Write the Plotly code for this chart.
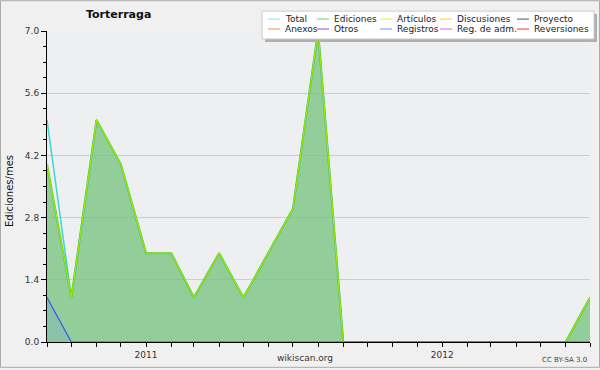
import plotly.graph_objects as go
import pandas as pd

# ---- data ----
months = pd.date_range("2010-09-01", periods=23, freq="MS")
total = [5, 1, 5, 4, 2, 2, 1, 2, 1, 2, 3, 7, 0, 0, 0, 0, 0, 0, 0, 0, 0, 0, 1]
ediciones = [4, 1, 5, 4, 2, 2, 1, 2, 1, 2, 3, 7, 0, 0, 0, 0, 0, 0, 0, 0, 0, 0, 1]
articulos = [4, 1, 5, 4, 2, 2, 1, 2, 1, 2, 3, 7, 0, 0, 0, 0, 0, 0, 0, 0, 0, 0, 1]
registros = [1, 0, 0, 0, 0, 0, 0, 0, 0, 0, 0, 0, 0, 0, 0, 0, 0, 0, 0, 0, 0, 0, 0]
y_ticks = [0.0, 1.4, 2.8, 4.2, 5.6, 7.0]
year_labels = {"2011-01": "2011", "2012-01": "2012"}

legend_names = [["Total", "Ediciones", "Artículos", "Discusiones", "Proyecto"],
                ["Anexos", "Otros", "Registros", "Reg. de adm.", "Reversiones"]]
legend_colors = [["#88e6e6", "#77cc77", "#ccff33", "#ffcc33", "#555555"],
                 ["#ff8844", "#9944ee", "#7788ff", "#ee55ee", "#ff3333"]]

W, H = 600, 370
L, R, T, B = 47, 590, 31, 344
def px(x):
    return (x - L) / (R - L)
def py(y):
    return (B - y) / (B - T)

FONT = "DejaVu Sans"

fig = go.Figure()
fig.add_trace(go.Scatter(x=months, y=total, mode="lines",
                         line=dict(color="#3fd6d6", width=1.5), showlegend=False,
                         hoverinfo="skip"))
fig.add_trace(go.Scatter(x=months, y=ediciones, mode="lines", fill="tozeroy",
                         fillcolor="rgba(120,195,130,0.78)",
                         line=dict(color="#55bb55", width=2), showlegend=False,
                         hoverinfo="skip"))
fig.add_trace(go.Scatter(x=months, y=articulos, mode="lines",
                         line=dict(color="#99ee00", width=1.2), showlegend=False,
                         hoverinfo="skip"))
fig.add_trace(go.Scatter(x=months, y=registros, mode="lines", fill="tozeroy",
                         fillcolor="rgba(110,130,255,0.15)",
                         line=dict(color="#3355ee", width=1.2), showlegend=False,
                         hoverinfo="skip"))

tickvals = list(months)
ticktext = [year_labels.get(m.strftime("%Y-%m"), "") for m in months]

shapes = []
annotations = []
# outer border
shapes.append(dict(type="rect", xref="paper", yref="paper",
                   x0=px(0.5), x1=px(599.5), y0=py(0.5), y1=py(369.5),
                   line=dict(color="#aaaaaa", width=1), layer="below"))
# legend box with shadow
shapes.append(dict(type="rect", xref="paper", yref="paper",
                   x0=px(265), x1=px(597), y0=py(14), y1=py(42),
                   fillcolor="#b0b0b0", line=dict(width=0)))
shapes.append(dict(type="rect", xref="paper", yref="paper",
                   x0=px(262), x1=px(594), y0=py(11), y1=py(39),
                   fillcolor="#ffffff", line=dict(color="#cccccc", width=1)))
col_x = [268, 317, 380, 440, 517]
row_y = [19, 29]
for r in range(2):
    for c in range(5):
        x0 = col_x[c]
        yy = row_y[r]
        shapes.append(dict(type="line", xref="paper", yref="paper",
                           x0=px(x0), x1=px(x0 + 12), y0=py(yy), y1=py(yy),
                           line=dict(color=legend_colors[r][c], width=1)))
        annotations.append(dict(xref="paper", yref="paper", x=px(x0 + 15), y=py(yy),
                                text=legend_names[r][c], showarrow=False,
                                xanchor="left", yanchor="middle",
                                font=dict(family=FONT, size=9, color="#222222")))

annotations.append(dict(xref="paper", yref="paper", x=px(118), y=py(14),
                        text="<b>Torterraga</b>", showarrow=False,
                        xanchor="center", yanchor="middle",
                        font=dict(family=FONT, size=11, color="#111111")))
annotations.append(dict(xref="paper", yref="paper", x=px(10), y=py(192),
                        text="Ediciones/mes", showarrow=False, textangle=-90,
                        xanchor="center", yanchor="middle",
                        font=dict(family=FONT, size=10, color="#111111")))
annotations.append(dict(xref="paper", yref="paper", x=px(305), y=py(360),
                        text="wikiscan.org", showarrow=False,
                        xanchor="center", yanchor="middle",
                        font=dict(family=FONT, size=9, color="#333333")))
annotations.append(dict(xref="paper", yref="paper", x=px(589), y=py(362),
                        text="CC BY-SA 3.0", showarrow=False,
                        xanchor="right", yanchor="middle",
                        font=dict(family=FONT, size=7, color="#444444")))

fig.update_layout(
    width=W, height=H,
    margin=dict(l=L, r=W - R, t=T, b=H - B, pad=0),
    paper_bgcolor="#f0f0f0",
    plot_bgcolor="#eeeff0",
    showlegend=False,
    hovermode=False,
    shapes=shapes,
    annotations=annotations,
    xaxis=dict(type="date", range=[months[0], months[-1]],
               tickvals=tickvals, ticktext=ticktext,
               ticks="outside", ticklen=4, tickcolor="#000000",
               showline=True, linecolor="#000000", linewidth=1,
               showgrid=False, zeroline=False,
               tickfont=dict(family=FONT, size=9, color="#333333")),
    yaxis=dict(range=[0, 7], tickvals=y_ticks,
               ticktext=[f"{v:.1f}" for v in y_ticks],
               ticks="outside", ticklen=5, tickcolor="#000000",
               showline=True, linecolor="#000000", linewidth=1,
               showgrid=True, gridcolor="#cccccc", gridwidth=1,
               zeroline=False,
               minor=dict(dtick=0.35, tick0=0, ticks="outside", ticklen=3,
                          tickcolor="#000000", showgrid=False),
               tickfont=dict(family=FONT, size=9, color="#333333")),
)

fig.write_html("out.html", config={"displayModeBar": False},
               post_script="document.body.style.margin='0';document.body.style.overflow='hidden';")
